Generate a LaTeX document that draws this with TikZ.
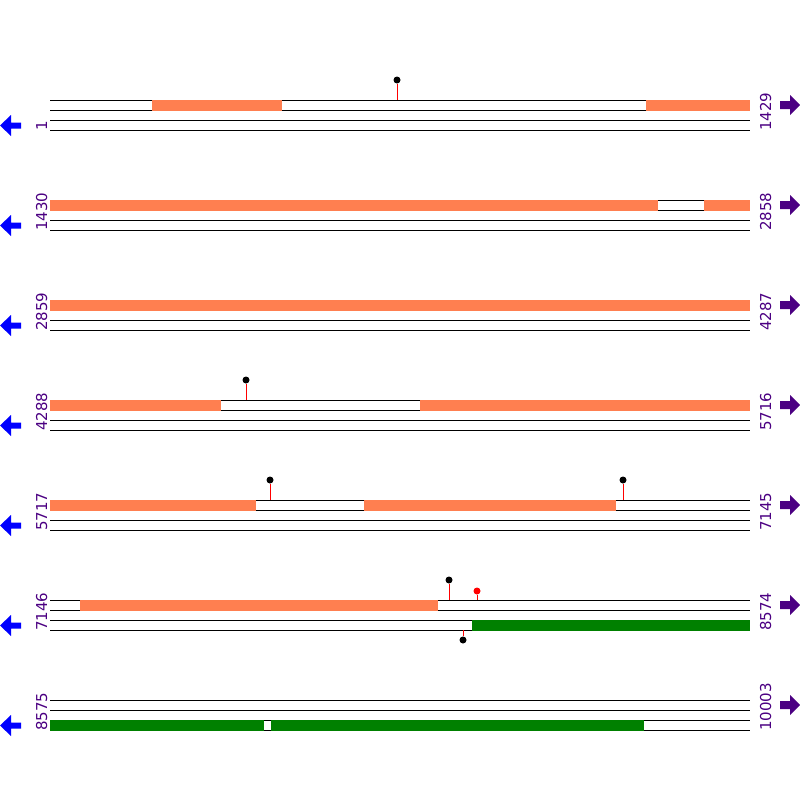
\documentclass[tikz,border=0pt]{standalone}
\usepackage{fontspec}
\setmainfont{DejaVu Sans}
\usetikzlibrary{positioning}
\definecolor{fwdorange}{HTML}{FF7F50}
\definecolor{revgreen}{HTML}{008000}
\definecolor{posviolet}{HTML}{4B0082}
\tikzset{
    strand/.style={black, line width=1pt},
    fwdblock/.style={fill=fwdorange},
    revblock/.style={fill=revgreen},
    poslabel/.style={rotate=90, anchor=base west, inner sep=0pt, text=posviolet, font=\fontsize{15}{15}\selectfont},
    sitehead/.style={circle, fill=black, inner sep=0pt, minimum size=7pt},
    redhead/.style={circle, fill=red, inner sep=0pt, minimum size=7pt},
    sitestick/.style={red, line width=1pt}
}
\begin{document}
\begin{tikzpicture}[x=1pt, y=-1pt]
    \useasboundingbox (0,0) rectangle (800,800);
    % Rows: strands, end labels and direction arrows
    \foreach \y/\lft/\rgt in {100/1/1429, 200/1430/2858, 300/2859/4287, 400/4288/5716, 500/5717/7145, 600/7146/8574, 700/8575/10003} {
        \foreach \d in {0,10,20,30}
            \draw [strand] (50,\y+\d) -- (750,\y+\d);
        \node (left\y) [poslabel] at (47,\y+31) {\lft};
        \node (right\y) [poslabel] at (771,\y+31) {\rgt};
        \fill [blue] (0,\y+25.5) -- (11,\y+15) -- (11,\y+22.5) -- (21,\y+22.5) -- (21,\y+28.5) -- (11,\y+28.5) -- (11,\y+36) -- cycle;
        \fill [posviolet] (800,\y+5) -- (790,\y-5) -- (790,\y+1) -- (780,\y+1) -- (780,\y+9) -- (790,\y+9) -- (790,\y+15) -- cycle;
    }
    % Forward features
    \fill [fwdblock] (152,99.5) rectangle (282,110.5);
    \fill [fwdblock] (646,99.5) rectangle (750,110.5);
    \fill [fwdblock] (50,199.5) rectangle (658,210.5);
    \fill [fwdblock] (704,199.5) rectangle (750,210.5);
    \fill [fwdblock] (50,299.5) rectangle (750,310.5);
    \fill [fwdblock] (50,399.5) rectangle (221,410.5);
    \fill [fwdblock] (420,399.5) rectangle (750,410.5);
    \fill [fwdblock] (50,499.5) rectangle (256,510.5);
    \fill [fwdblock] (364,499.5) rectangle (616,510.5);
    \fill [fwdblock] (80,599.5) rectangle (438,610.5);
    % Reverse features
    \fill [revblock] (472,619.5) rectangle (750,630.5);
    \fill [revblock] (50,719.5) rectangle (264,730.5);
    \fill [revblock] (271,719.5) rectangle (644,730.5);
    % Sites
    \node (siteA) [sitehead] at (397,80) {};
    \node (siteB) [sitehead] at (246,380) {};
    \node (siteC) [sitehead] at (270,480) {};
    \node (siteD) [sitehead] at (623,480) {};
    \node (siteE) [sitehead] at (449,580) {};
    \node (siteF) [redhead] at (477,591) {};
    \node (siteG) [sitehead] at (463,640) {};
    \draw [sitestick] (siteA) -- (397,100);
    \draw [sitestick] (siteB) -- (246,400);
    \draw [sitestick] (siteC) -- (270,500);
    \draw [sitestick] (siteD) -- (623,500);
    \draw [sitestick] (siteE) -- (449,600);
    \draw [sitestick] (siteF) -- (477,600);
    \draw [sitestick] (siteG) -- (463,630);
\end{tikzpicture}
\end{document}
